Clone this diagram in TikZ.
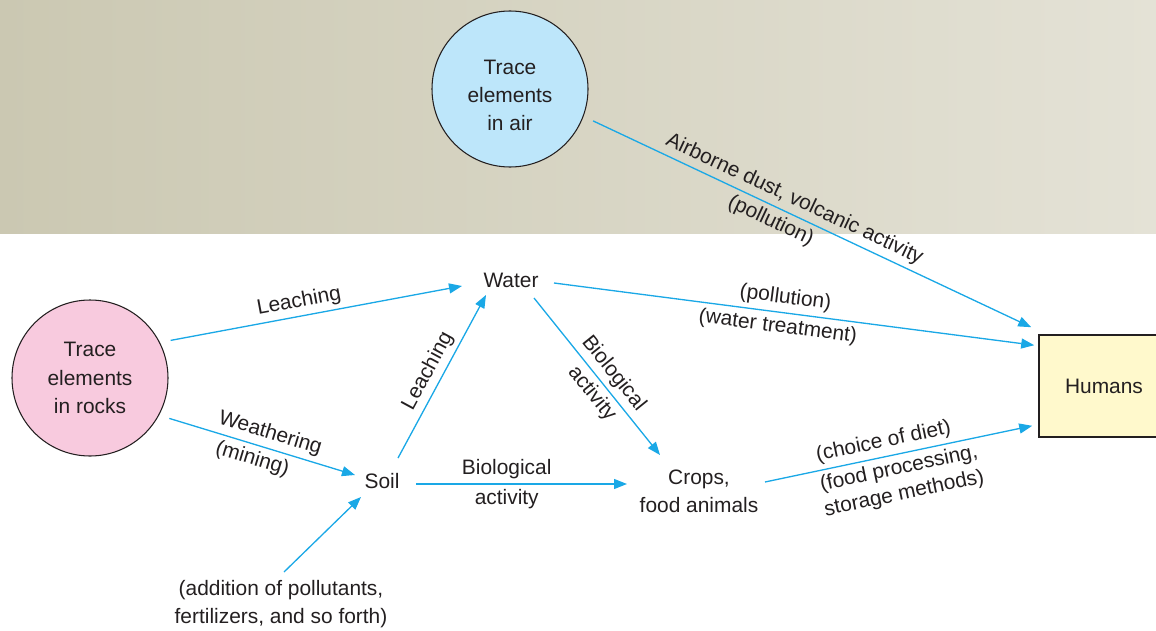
\documentclass[tikz,border=0pt]{standalone}
\usepackage{fontspec}
\setmainfont{Liberation Sans}
\usetikzlibrary{calc,positioning,arrows.meta}
\definecolor{flowblue}{HTML}{1AA8E6}
\definecolor{inktext}{HTML}{231F20}
\definecolor{airfill}{HTML}{BDE6FA}
\definecolor{rockfill}{HTML}{F8CADE}
\definecolor{humanfill}{HTML}{FFF9CC}
\definecolor{skyleft}{HTML}{CBC8B2}
\definecolor{skyright}{HTML}{E4E2D6}
\newcommand{\cyclearrowstyle}{-{Triangle[length=2.6mm,width=2mm]}}

\begin{document}
\begin{tikzpicture}[
    x=0.2mm, y=-0.2mm,
    font=\fontsize{11.9}{16}\selectfont,
    text=inktext,
    flow/.style={\cyclearrowstyle, draw=flowblue, line width=0.75pt},
    pool/.style={circle, draw=inktext, line width=0.6pt, minimum size=31.2mm, inner sep=0pt, outer sep=2.2mm, align=center},
    stage/.style={inner sep=0pt, align=center},
    lbl/.style={sloped, inner sep=2.5pt, align=center, font=\fontsize{11.9}{14.6}\selectfont}
]
  % sky band and page frame
  \shade[left color=skyleft, right color=skyright] (0,0) rectangle (1156,233);
  \useasboundingbox (0,0) rectangle (1156,630);

  % sources and sink
  \node[pool, fill=airfill, label={[align=center, yshift=-1.3mm]center:Trace\\elements\\in air}] (air) at (510,89) {};
  \node[pool, fill=rockfill] (rocks) at (90,378) {Trace\\elements\\in rocks};
  \node[draw=inktext, line width=0.9pt, fill=humanfill, minimum width=26mm, minimum height=20.4mm] (humans) at (1104,386) {Humans};

  % intermediate stages
  \node[stage] (water) at (511,280) {Water};
  \node[stage] (soil) at (382,481) {Soil};
  \node[stage] (crops) at (699,491) {Crops,\\food animals};
  \node[stage] (inputs) at (281,604) {(addition of pollutants,\\fertilizers, and so forth)};

  % paths into humans
  \draw[flow] (air.-21) -- node[lbl, above, pos=0.445] {Airborne dust, volcanic activity}
    node[lbl, below, pos=0.42] {(pollution)} ([shift={(-7,-7)}]humans.north west);
  \draw[flow] ([shift={(43,3)}]water.center) -- node[lbl, above, pos=0.478] {(pollution)}
    node[lbl, below, pos=0.47] {(water treatment)} ([shift={(-4,11)}]humans.north west);
  \draw[flow] ([shift={(66,-9)}]crops.center) -- node[lbl, above, pos=0.455] {(choice of diet)}
    node[lbl, below, pos=0.49] {(food processing,\\storage methods)} ([shift={(-6,-12)}]humans.south west);

  % rocks to water and soil
  \draw[flow] (rocks.25) -- node[lbl, above, pos=0.45] {Leaching} ([shift={(-49,6)}]water.center);
  \draw[flow] (rocks.-27) -- node[lbl, above, pos=0.52] {Weathering}
    node[lbl, below, pos=0.47] {(mining)} ([shift={(-27,-6)}]soil.center);

  % soil and water onwards
  \draw[flow] ([shift={(16,-23)}]soil.center) -- node[lbl, above, pos=0.49] {Leaching} ([shift={(-25,15)}]water.center);
  \draw[flow] ([shift={(23,18)}]water.center) -- node[lbl, above, pos=0.54] {Biological}
    node[lbl, below, pos=0.55] {activity} ([shift={(-39,-36)}]crops.center);
  \draw[flow] ([shift={(34,3)}]soil.center) -- node[lbl, above, pos=0.43] {Biological}
    node[lbl, below, pos=0.43] {activity} ([shift={(-72,-7)}]crops.center);

  % added inputs
  \draw[flow] ([shift={(3,-32)}]inputs.center) -- ([shift={(-21,16)}]soil.center);
\end{tikzpicture}
\end{document}
